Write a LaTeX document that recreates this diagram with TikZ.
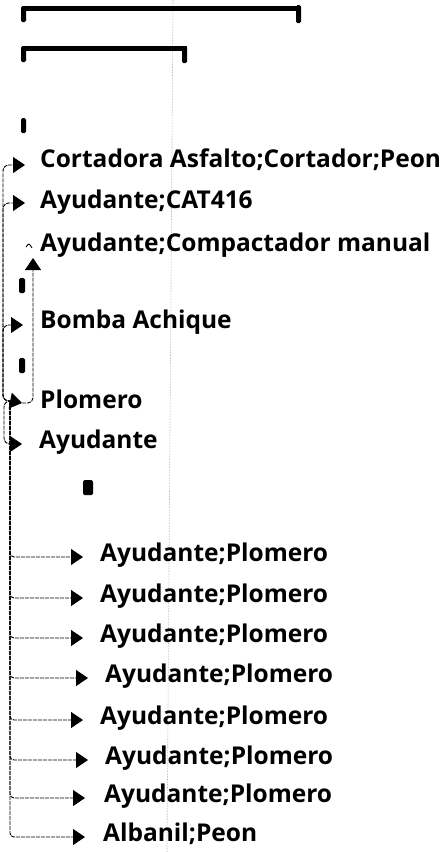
\documentclass[tikz,border=0pt]{standalone}
\usepackage{fontspec}
\setmainfont{Open Sans}
\usetikzlibrary{arrows.meta}

\begin{document}
\begin{tikzpicture}[x=1pt,y=-1pt,
  task/.style={anchor=base west,inner sep=0pt,font=\fontsize{24.5}{28}\selectfont\bfseries},
  link/.style={line width=0.9pt,dash pattern=on 4pt off 1pt,-{Triangle[length=12pt,width=16pt]}},
  mstone/.style={fill=black,rounded corners=1.5pt}]
\useasboundingbox (0,0) rectangle (444,852);

% status line
\draw[gray!70,densely dotted,line width=0.6pt] (173,0) -- (167,852);

% summary bars
\fill (22,6) rectangle (300,11);
\fill[mstone] (21,6) rectangle (26,22);
\fill[mstone] (296,5) rectangle (301,23);
\fill (22,46) rectangle (187,51);
\fill[mstone] (21,46) rectangle (26,62);
\fill[mstone] (182,46) rectangle (187,63);

% milestones
\fill[mstone] (21,118) rectangle (26,133);
\fill[mstone] (19,278) rectangle (25,293);
\fill[mstone] (19,358) rectangle (25,373);
\fill[mstone] (83,480) rectangle (93,495);

% tasks
\coordinate (cortTip) at (25,165);
\node[task] (cort) at (40,167.7) {Cortadora Asfalto;Cortador;Peon};
\coordinate (catTip) at (25,203);
\node[task] (cat) at (40,208.7) {Ayudante;CAT416};
\coordinate (compTip) at (33,258);
\node[task] (comp) at (40,251.7) {Ayudante;Compactador manual};
\coordinate (bombaTip) at (23,325);
\node[task] (bomba) at (40,328.7) {Bomba Achique};
\coordinate (plomTip) at (22,403);
\node[task] (plom) at (40,408.7) {Plomero};
\coordinate (ayudTip) at (22,444);
\node[task] (ayud) at (39,448.7) {Ayudante};

\foreach \n/\tx/\ty/\lx/\name in {1/83/557/100/{Ayudante;Plomero},
    2/83/598/100/{Ayudante;Plomero}, 3/83/638/100/{Ayudante;Plomero},
    4/88/678/105/{Ayudante;Plomero}, 5/83/720/100/{Ayudante;Plomero},
    6/88/760/105/{Ayudante;Plomero}, 7/85/798/104/{Ayudante;Plomero},
    8/85/837/103/{Albanil;Peon}}
  {
  \coordinate (tip\n) at (\tx,\ty);
  \node[task] (row\n) at (\lx,\ty+4.7) {\name};
  }

% links
\coordinate (jn) at (12,401);
\coordinate (jr) at (10,401);
\draw[link,rounded corners=6pt] (jn) -| (3,165) -- (cortTip);
\draw[link,rounded corners=6pt] (jn) -| (3,203) -- (catTip);
\draw[link,rounded corners=6pt] (jn) -| (3,325) -- (bombaTip);
\draw[link] (jn) -- (plomTip);
\draw[link,rounded corners=6pt] (jn) -| (4,444) -- (ayudTip);
\draw[link,rounded corners=5pt] (plomTip) -| (compTip);
\draw[line width=0.9pt] (26,247) .. controls (29,243) .. (32,248);
\foreach \n in {1,...,8}
  \draw[link,rounded corners=4pt] (jr) |- (tip\n);
\end{tikzpicture}
\end{document}
